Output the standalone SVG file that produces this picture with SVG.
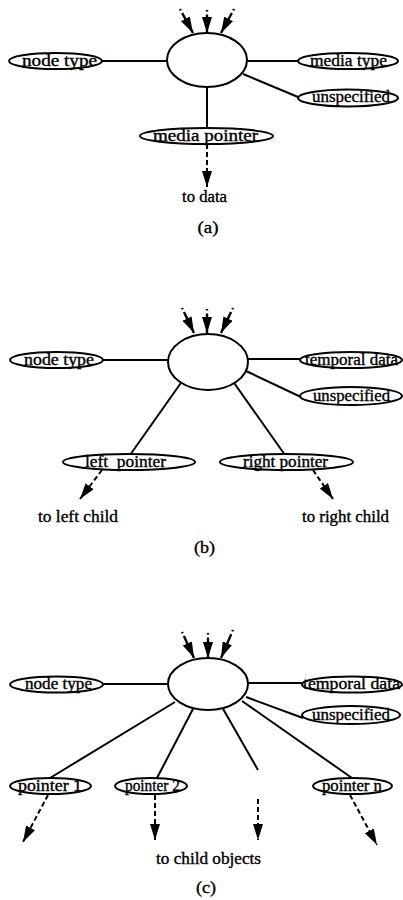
<svg xmlns="http://www.w3.org/2000/svg" width="403" height="900" viewBox="0 0 403 900">
<style>
  .bg{fill:#fff}
  ellipse{fill:#fff;stroke:#000;stroke-width:2}
  .ln{stroke:#000;stroke-width:2;fill:none}
  .dl{stroke:#000;stroke-width:2;fill:none;stroke-dasharray:5 3}
  .in{stroke:#000;stroke-width:2.4;fill:none;stroke-dasharray:1.5 3 40}
  text{font-family:"Liberation Serif","Times New Roman",serif;font-size:16px;fill:#000;stroke:#000;stroke-width:0.35;text-anchor:middle}
</style>
<defs>
  <marker id="ah" viewBox="0 0 16 10" refX="16" refY="5" markerWidth="16" markerHeight="10" markerUnits="userSpaceOnUse" orient="auto">
    <path d="M0,0 L16,5 L0,10 z" fill="#000"/>
  </marker>
</defs>
<rect class="bg" x="0" y="0" width="403" height="900"/>

<!-- ===== (a) ===== -->
<g id="a-connectors">
  <line class="in" x1="180" y1="9" x2="193" y2="33" marker-end="url(#ah)"/>
  <line class="in" x1="207" y1="10" x2="207" y2="33" marker-end="url(#ah)"/>
  <line class="in" x1="234" y1="9" x2="221" y2="33" marker-end="url(#ah)"/>
  <line class="ln" x1="102" y1="61" x2="167" y2="61"/>
  <line class="ln" x1="247" y1="61" x2="298" y2="61"/>
  <line class="ln" x1="243" y1="74" x2="298" y2="97"/>
  <line class="ln" x1="207" y1="87" x2="207" y2="128"/>
  <line class="dl" x1="207" y1="144" x2="207" y2="187" marker-end="url(#ah)"/>
</g>
<g id="a-center"><ellipse cx="207" cy="60" rx="40" ry="27"/></g>
<g id="a-nodetype"><ellipse cx="55.5" cy="61" rx="46.5" ry="8"/><text x="59.5" y="65.5" textLength="75" lengthAdjust="spacingAndGlyphs">node type</text></g>
<g id="a-mediatype"><ellipse cx="348" cy="61" rx="50" ry="8"/><text x="348.5" y="65.5" textLength="77" lengthAdjust="spacingAndGlyphs">media type</text></g>
<g id="a-unspecified"><ellipse cx="348" cy="98" rx="50" ry="8.5"/><text x="351" y="102" textLength="78" lengthAdjust="spacingAndGlyphs">unspecified</text></g>
<g id="a-mediapointer"><ellipse cx="206.5" cy="136" rx="66.5" ry="8"/><text x="205.5" y="140.5" textLength="105" lengthAdjust="spacingAndGlyphs">media pointer</text></g>
<g id="a-todata"><text x="204.5" y="202" textLength="45" lengthAdjust="spacingAndGlyphs">to data</text></g>
<text x="208" y="233" textLength="21" lengthAdjust="spacingAndGlyphs">(a)</text>

<!-- ===== (b) ===== -->
<g id="b-connectors">
  <line class="in" x1="182" y1="308" x2="194" y2="333" marker-end="url(#ah)"/>
  <line class="in" x1="207" y1="309" x2="207" y2="333" marker-end="url(#ah)"/>
  <line class="in" x1="233" y1="308" x2="221" y2="333" marker-end="url(#ah)"/>
  <line class="ln" x1="103" y1="360" x2="168" y2="360"/>
  <line class="ln" x1="248" y1="359" x2="300" y2="359"/>
  <line class="ln" x1="246" y1="371" x2="301" y2="397"/>
  <line class="ln" x1="183" y1="380" x2="130" y2="455"/>
  <line class="ln" x1="232" y1="380" x2="285" y2="455"/>
  <line class="dl" x1="102" y1="470" x2="80" y2="499" marker-end="url(#ah)"/>
  <line class="dl" x1="313" y1="470" x2="333" y2="499" marker-end="url(#ah)"/>
</g>
<g id="b-center"><ellipse cx="208" cy="362" rx="40" ry="28"/></g>
<g id="b-nodetype"><ellipse cx="56.5" cy="360" rx="46.5" ry="8"/><text x="59" y="364.5" textLength="70" lengthAdjust="spacingAndGlyphs">node type</text></g>
<g id="b-temporal"><ellipse cx="351" cy="360" rx="51" ry="8"/><text x="351.5" y="364.5" textLength="93" lengthAdjust="spacingAndGlyphs">temporal data</text></g>
<g id="b-unspecified"><ellipse cx="351" cy="396" rx="51" ry="9"/><text x="351.5" y="400.5" textLength="77" lengthAdjust="spacingAndGlyphs">unspecified</text></g>
<g id="b-left"><ellipse cx="129" cy="462" rx="66" ry="8"/><text x="125.5" y="466.5" textLength="81" lengthAdjust="spacingAndGlyphs" xml:space="preserve">left  pointer</text></g>
<g id="b-right"><ellipse cx="286.5" cy="462" rx="66.5" ry="8"/><text x="285.5" y="466.5" textLength="85" lengthAdjust="spacingAndGlyphs">right pointer</text></g>
<g id="b-toleft"><text x="78" y="522" textLength="80" lengthAdjust="spacingAndGlyphs">to left child</text></g>
<g id="b-toright"><text x="345.5" y="522" textLength="87" lengthAdjust="spacingAndGlyphs">to right child</text></g>
<text x="204.5" y="553" textLength="21" lengthAdjust="spacingAndGlyphs">(b)</text>

<!-- ===== (c) ===== -->
<g id="c-connectors">
  <line class="in" x1="182" y1="632" x2="194" y2="658" marker-end="url(#ah)"/>
  <line class="in" x1="208" y1="633" x2="208" y2="658" marker-end="url(#ah)"/>
  <line class="in" x1="233" y1="630" x2="221" y2="658" marker-end="url(#ah)"/>
  <line class="ln" x1="103" y1="684" x2="168" y2="684"/>
  <line class="ln" x1="248" y1="683" x2="302" y2="683"/>
  <line class="ln" x1="246" y1="697" x2="303" y2="718"/>
  <line class="ln" x1="175" y1="702" x2="50" y2="778"/>
  <line class="ln" x1="194" y1="707" x2="157" y2="778"/>
  <line class="ln" x1="222" y1="707" x2="258" y2="770"/>
  <line class="ln" x1="242" y1="701" x2="352" y2="778"/>
  <line class="dl" x1="48" y1="795" x2="23" y2="842" marker-end="url(#ah)"/>
  <line class="dl" x1="155" y1="795" x2="155" y2="840" marker-end="url(#ah)"/>
  <line class="dl" x1="258" y1="799" x2="258" y2="840" marker-end="url(#ah)"/>
  <line class="dl" x1="350" y1="795" x2="377" y2="845" marker-end="url(#ah)"/>
</g>
<g id="c-center"><ellipse cx="208" cy="684" rx="40" ry="26"/></g>
<g id="c-nodetype"><ellipse cx="56.5" cy="684.5" rx="46.5" ry="8"/><text x="58.5" y="689" textLength="67" lengthAdjust="spacingAndGlyphs">node type</text></g>
<g id="c-temporal"><ellipse cx="352" cy="684.5" rx="50" ry="8"/><text x="351.5" y="689" textLength="97" lengthAdjust="spacingAndGlyphs">temporal data</text></g>
<g id="c-unspecified"><ellipse cx="351" cy="715" rx="49" ry="9"/><text x="351" y="719.5" textLength="78" lengthAdjust="spacingAndGlyphs">unspecified</text></g>
<g id="c-p1"><ellipse cx="50.5" cy="786" rx="40.5" ry="8"/><text x="50" y="790.5" textLength="64" lengthAdjust="spacingAndGlyphs">pointer 1</text></g>
<g id="c-p2"><ellipse cx="151" cy="786" rx="36" ry="8"/><text x="152.5" y="790.5" textLength="55" lengthAdjust="spacingAndGlyphs">pointer 2</text></g>
<g id="c-pn"><ellipse cx="352.5" cy="786" rx="39.5" ry="8"/><text x="352" y="790.5" textLength="60" lengthAdjust="spacingAndGlyphs">pointer n</text></g>
<g id="c-tochild"><text x="208.5" y="864" textLength="105" lengthAdjust="spacingAndGlyphs">to child objects</text></g>
<text x="206" y="893" textLength="20" lengthAdjust="spacingAndGlyphs">(c)</text>
</svg>
